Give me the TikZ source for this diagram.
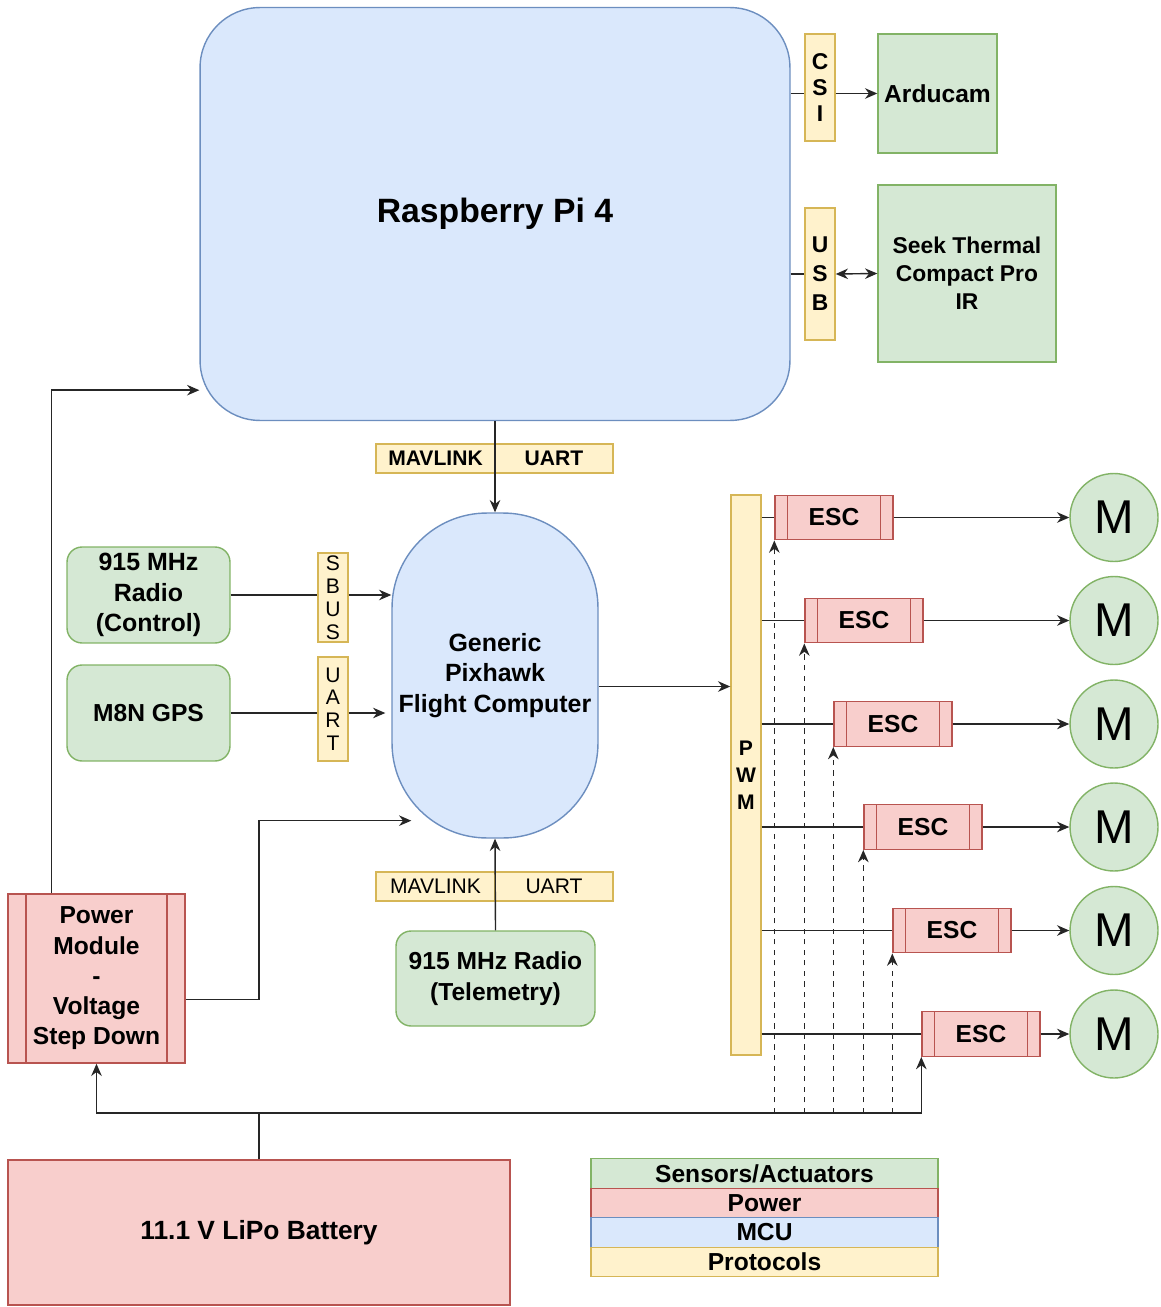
\documentclass[tikz,border=0pt]{standalone}
\usepackage{fontspec}
\setmainfont{Liberation Sans}
\usepackage{tikz}
\definecolor{UAVgreen}{HTML}{D5E8D4}
\definecolor{UAVgreenLine}{HTML}{82B366}
\definecolor{UAVred}{HTML}{F8CECC}
\definecolor{UAVredLine}{HTML}{B85450}
\definecolor{UAVblue}{HTML}{DAE8FC}
\definecolor{UAVblueLine}{HTML}{6C8EBF}
\definecolor{UAVyellow}{HTML}{FFF2CC}
\definecolor{UAVyellowLine}{HTML}{D6B656}
\usetikzlibrary{arrows.meta, positioning, calc}

\begin{document}
\begin{tikzpicture}[
  x=0.02cm, y=-0.02cm,
  every node/.style={font=\bfseries\fontsize{14}{17}\selectfont, align=center, inner sep=1pt},
  sensor/.style={draw=UAVgreenLine, fill=UAVgreen, line width=0.8pt},
  power/.style={draw=UAVredLine, fill=UAVred, line width=0.8pt},
  mcu/.style={draw=UAVblueLine, fill=UAVblue, line width=0.8pt},
  proto/.style={draw=UAVyellowLine, fill=UAVyellow, line width=0.8pt},
  procbox/.style={power, path picture={
    \draw[UAVredLine, line width=0.8pt]
      ([xshift=#1]path picture bounding box.north west) -- ([xshift=#1]path picture bounding box.south west)
      ([xshift=-#1]path picture bounding box.north east) -- ([xshift=-#1]path picture bounding box.south east);}},
  esc/.style={procbox=0.25cm, minimum width=2.36cm, minimum height=0.89cm},
  motor/.style={sensor, circle, minimum size=1.76cm, inner sep=0pt,
    font=\fontsize{27}{30}\selectfont},
  vlabel/.style={proto, minimum width=0.6cm, font=\fontsize{12}{13}\selectfont},
  legend/.style={minimum width=6.94cm, minimum height=0.59cm, inner sep=0pt},
  link/.style={draw=black!85, line width=0.8pt},
  >={Stealth[length=7pt, width=6pt]}
]
\useasboundingbox (0,0) rectangle (1160,1307);

\node[mcu, rounded corners=1.2cm, minimum width=11.8cm, minimum height=8.26cm,
  font=\bfseries\fontsize{19.2}{22}\selectfont] (rpi) at (495,214) {Raspberry Pi 4};
\node[vlabel, minimum height=2.14cm, font=\bfseries\fontsize{13}{15}\selectfont] (csi) at (820,87.5) {C\\S\\I};
\node[sensor, minimum width=2.38cm, minimum height=2.38cm] (ardu) at (937.5,93.5) {Arducam};
\node[vlabel, minimum height=2.64cm, font=\bfseries\fontsize{13}{16.5}\selectfont] (usb) at (820,274) {U\\S\\B};
\node[sensor, minimum width=3.56cm, minimum height=3.54cm, font=\bfseries\fontsize{13}{16}\selectfont]
  (seek) at (967,273.5) {Seek Thermal\\Compact Pro\\IR};

\node[proto, minimum width=2.38cm, minimum height=0.58cm, font=\bfseries\fontsize{12}{14}\selectfont] (mavA) at (435.5,458.5) {MAVLINK};
\node[proto, minimum width=2.36cm, minimum height=0.58cm, font=\bfseries\fontsize{12}{14}\selectfont] (uartA) at (554,458.5) {UART};

\node[mcu, rounded corners=1.9cm, minimum width=4.12cm, minimum height=6.5cm,
  font=\bfseries\fontsize{14.2}{17.3}\selectfont] (fc) at (495,675.5) {Generic\\Pixhawk\\Flight Computer};

\node[sensor, rounded corners=0.3cm, minimum width=3.26cm, minimum height=1.92cm,
  font=\bfseries\fontsize{14.2}{17.3}\selectfont] (rc) at (148.5,595) {915 MHz\\Radio\\(Control)};
\node[sensor, rounded corners=0.3cm, minimum width=3.26cm, minimum height=1.92cm] (gps) at (148.5,713) {M8N GPS};
\node[vlabel, minimum height=1.78cm] (sbus) at (333,597.5) {S\\B\\U\\S};
\node[vlabel, minimum height=2.08cm] (uart) at (333,709) {U\\A\\R\\T};

\node[proto, minimum width=2.38cm, minimum height=0.58cm, font=\fontsize{12}{14}\selectfont] (mavB) at (435.5,886.5) {MAVLINK};
\node[proto, minimum width=2.36cm, minimum height=0.58cm, font=\fontsize{12}{14}\selectfont] (uartB) at (554,886.5) {UART};
\node[sensor, rounded corners=0.3cm, minimum width=3.98cm, minimum height=1.9cm,
  font=\bfseries\fontsize{14}{17.5}\selectfont] (tel) at (495.5,978.5) {915 MHz Radio\\(Telemetry)};

\node[proto, minimum width=0.6cm, minimum height=11.2cm, font=\bfseries\fontsize{12}{15.5}\selectfont] (pwm) at (746,775) {P\\W\\M};

\foreach \i/\x/\y in {1/834/517.5, 2/864/620.5, 3/893/724, 4/923/827, 5/952/930.5, 6/981/1034}{
  \node[esc] (esc\i) at (\x,\y) {ESC};
  \node[motor] (m\i) at (1114,\y) {M};
}

\node[procbox=0.36cm, minimum width=3.54cm, minimum height=3.38cm,
  font=\bfseries\fontsize{14}{17.2}\selectfont] (pm) at (96.5,978.5) {Power\\Module\\-\\Voltage\\Step Down};
\node[power, minimum width=10.04cm, minimum height=2.9cm, font=\bfseries\fontsize{15}{18}\selectfont] (bat) at (259,1232.5) {11.1 V LiPo Battery};

\node[sensor, legend] (lgA) at (764.5,1173.5) {Sensors/Actuators};
\node[power, legend] (lgB) at (764.5,1203) {Power};
\node[mcu, legend] (lgC) at (764.5,1232.5) {MCU};
\node[proto, legend] (lgD) at (764.5,1262) {Protocols};

\coordinate (bus) at (259,1113);
\coordinate (fcin) at ([xshift=0.4cm,yshift=0.36cm]fc.south west);

\draw[link] (ardu.west -| rpi.east) -- (ardu.west -| csi.west);
\draw[link,->] (ardu.west -| csi.east) -- (ardu.west);
\draw[link] (usb.west -| rpi.east) -- (usb.west);
\draw[link,<->] (usb.east) -- (seek.west);
\draw[link,->] (rpi.south) -- (fc.north);
\draw[link] (rc.east) -- (rc.east -| sbus.west);
\draw[link,->] (rc.east -| sbus.east) -- (rc.east -| fc.west);
\draw[link] (gps.east) -- (gps.east -| uart.west);
\draw[link,->] (gps.east -| uart.east) -- ([xshift=-0.12cm]gps.east -| fc.west);
\draw[link,->] ([yshift=-0.22cm]fc.east) -- ([yshift=-0.22cm]fc.east -| pwm.west);
\draw[link,->] (tel.north) -- (fc.south);
\draw[link,->] ([xshift=0.88cm]pm.north west) |- ([yshift=0.62cm]rpi.south west);
\draw[link,->] ([yshift=-0.42cm]pm.east) -| (bus |- fcin) -- (fcin);
\draw[link,->] (bat.north) -- (bus) -| (pm.south);
\draw[link,->] (bus) -| (esc6.south west);
\foreach \i in {1,...,6}{
  \draw[link] (esc\i.west -| pwm.east) -- (esc\i.west);
  \draw[link,->] (esc\i.east) -- (m\i.west);
}
\foreach \i in {1,...,5}
  \draw[link,dashed,->] (esc\i.south west |- bus) -- (esc\i.south west);
\end{tikzpicture}
\end{document}
